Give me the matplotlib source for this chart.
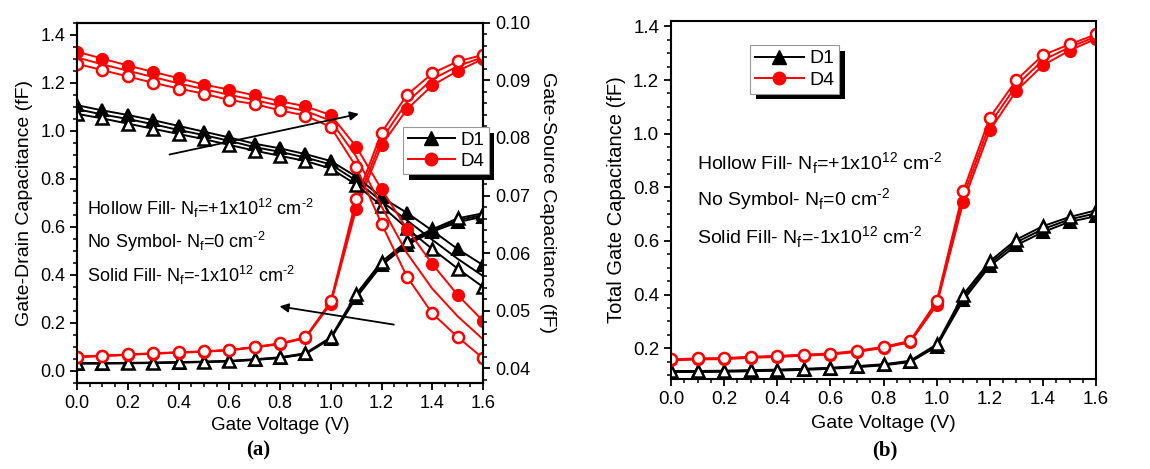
import matplotlib
matplotlib.use('Agg')
import matplotlib.pyplot as plt
import matplotlib.patheffects as pe
from matplotlib.lines import Line2D
from matplotlib.ticker import MultipleLocator, FormatStrFormatter

plt.rcParams['font.family'] = ['Liberation Sans', 'DejaVu Sans']
plt.rcParams['mathtext.fontset'] = 'custom'
plt.rcParams['mathtext.rm'] = 'Liberation Sans'
plt.rcParams['axes.linewidth'] = 1.5

# Gate voltage sweep (V)
vg = [0.0, 0.1, 0.2, 0.3, 0.4, 0.5, 0.6, 0.7, 0.8, 0.9, 1.0, 1.1, 1.2, 1.3, 1.4, 1.5, 1.6]

# (a) Gate-drain capacitance (fF), Nf = +1e12 / 0 / -1e12 cm^-2
cgd_d1_pos = [0.033, 0.033, 0.034, 0.035, 0.037, 0.039, 0.042, 0.049, 0.057, 0.074, 0.140, 0.320, 0.455, 0.540, 0.590, 0.636, 0.657]
cgd_d1_zero = [0.032, 0.032, 0.033, 0.034, 0.036, 0.038, 0.041, 0.047, 0.055, 0.072, 0.137, 0.312, 0.447, 0.532, 0.585, 0.628, 0.650]
cgd_d1_neg = [0.031, 0.031, 0.032, 0.033, 0.035, 0.037, 0.040, 0.046, 0.054, 0.070, 0.135, 0.305, 0.440, 0.525, 0.580, 0.620, 0.643]
cgd_d4_pos = [0.060, 0.064, 0.069, 0.074, 0.078, 0.082, 0.088, 0.100, 0.115, 0.140, 0.290, 0.715, 0.993, 1.150, 1.240, 1.290, 1.317]
cgd_d4_zero = [0.059, 0.063, 0.068, 0.073, 0.077, 0.081, 0.087, 0.099, 0.114, 0.139, 0.285, 0.695, 0.965, 1.120, 1.215, 1.270, 1.308]
cgd_d4_neg = [0.058, 0.062, 0.067, 0.072, 0.076, 0.080, 0.086, 0.098, 0.112, 0.137, 0.280, 0.675, 0.940, 1.090, 1.190, 1.250, 1.300]

# (a) Gate-source capacitance (fF)
cgs_d1_pos = [0.0842, 0.0834, 0.0825, 0.0816, 0.0807, 0.0798, 0.0788, 0.0778, 0.0769, 0.0760, 0.0747, 0.0719, 0.0682, 0.0643, 0.0607, 0.0573, 0.0541]
cgs_d1_zero = [0.0850, 0.0841, 0.0833, 0.0824, 0.0814, 0.0805, 0.0795, 0.0784, 0.0776, 0.0766, 0.0754, 0.0726, 0.0690, 0.0657, 0.0623, 0.0590, 0.0560]
cgs_d1_neg = [0.0857, 0.0848, 0.0840, 0.0831, 0.0821, 0.0811, 0.0801, 0.0790, 0.0782, 0.0772, 0.0760, 0.0733, 0.0697, 0.0670, 0.0639, 0.0607, 0.0579]
cgs_d4_pos = [0.0929, 0.0918, 0.0907, 0.0896, 0.0886, 0.0877, 0.0866, 0.0859, 0.0848, 0.0839, 0.0819, 0.0750, 0.0651, 0.0559, 0.0495, 0.0454, 0.0417]
cgs_d4_zero = [0.0940, 0.0928, 0.0917, 0.0906, 0.0895, 0.0885, 0.0875, 0.0866, 0.0856, 0.0847, 0.0830, 0.0768, 0.0681, 0.0600, 0.0538, 0.0490, 0.0450]
cgs_d4_neg = [0.0950, 0.0938, 0.0926, 0.0915, 0.0904, 0.0893, 0.0884, 0.0874, 0.0864, 0.0855, 0.0840, 0.0785, 0.0711, 0.0642, 0.0581, 0.0527, 0.0482]

# (b) Total gate capacitance (fF)
cgg_d1_pos = [0.115, 0.115, 0.116, 0.118, 0.120, 0.123, 0.127, 0.133, 0.140, 0.153, 0.214, 0.400, 0.524, 0.605, 0.655, 0.689, 0.714]
cgg_d1_zero = [0.113, 0.113, 0.114, 0.116, 0.118, 0.121, 0.125, 0.131, 0.138, 0.150, 0.210, 0.390, 0.515, 0.595, 0.644, 0.680, 0.703]
cgg_d1_neg = [0.111, 0.111, 0.112, 0.114, 0.116, 0.119, 0.123, 0.129, 0.136, 0.148, 0.206, 0.379, 0.506, 0.584, 0.633, 0.671, 0.692]
cgg_d4_pos = [0.158, 0.162, 0.163, 0.168, 0.171, 0.176, 0.180, 0.190, 0.205, 0.227, 0.375, 0.786, 1.060, 1.200, 1.293, 1.333, 1.370]
cgg_d4_zero = [0.156, 0.160, 0.161, 0.166, 0.169, 0.174, 0.178, 0.188, 0.203, 0.224, 0.368, 0.765, 1.036, 1.180, 1.274, 1.322, 1.362]
cgg_d4_neg = [0.154, 0.158, 0.159, 0.164, 0.167, 0.172, 0.176, 0.186, 0.201, 0.222, 0.360, 0.745, 1.012, 1.160, 1.255, 1.310, 1.354]

devices = ['D1', 'D4']
colors = {'D1': 'black', 'D4': 'red'}
markers = {'D1': '^', 'D4': 'o'}
msize = {'D1': 8.5, 'D4': 8}

hy = '\u2010'
notes = [r'Hollow Fill- N$_\mathregular{f}$=+1x10$^\mathregular{12}$ cm$^\mathregular{' + hy + '2}$',
         r'No Symbol- N$_\mathregular{f}$=0 cm$^\mathregular{' + hy + '2}$',
         r'Solid Fill- N$_\mathregular{f}$=-1x10$^\mathregular{12}$ cm$^\mathregular{' + hy + '2}$']


def plot_set(ax, dev, neg, zero, pos):
    c = colors[dev]
    m = markers[dev]
    ax.plot(vg, neg, color=c, lw=1.4, marker=m, ms=msize[dev], mfc=c, mec=c, mew=1.5)
    ax.plot(vg, zero, color=c, lw=1.4)
    ax.plot(vg, pos, color=c, lw=1.4, marker=m, ms=msize[dev], mfc='white', mec=c, mew=1.8)


def style_ticks(ax, size):
    ax.tick_params(direction='out', length=5, width=1.3, labelsize=size)
    ax.tick_params(which='minor', direction='out', length=3, width=1.1)


def add_legend(ax, anchor, size):
    handles = [Line2D([], [], color=colors[d], lw=1.4, marker=markers[d], ms=msize[d] + 1, mfc=colors[d], mec=colors[d])
               for d in devices]
    leg = ax.legend(handles, devices, loc='upper left', bbox_to_anchor=anchor, borderaxespad=0,
                    fontsize=size, handlelength=2.5, handletextpad=0.3, labelspacing=0.2,
                    borderpad=0.25, fancybox=False, framealpha=1)
    frame = leg.get_frame()
    frame.set_edgecolor('0.6')
    frame.set_linewidth(0.8)
    frame.set_path_effects([pe.SimplePatchShadow(offset=(4, -4), shadow_rgbFace='black', alpha=1),
                            pe.Normal()])


fig = plt.figure(figsize=(11.5, 4.69), dpi=100)

# ---- (a) Cgd and Cgs on twin y axes
ax = fig.add_axes([0.067, 0.1834, 0.353, 0.7676])
ax2 = ax.twinx()
for dev, (n, z, p) in zip(devices, [(cgd_d1_neg, cgd_d1_zero, cgd_d1_pos), (cgd_d4_neg, cgd_d4_zero, cgd_d4_pos)]):
    plot_set(ax, dev, n, z, p)
for dev, (n, z, p) in zip(devices, [(cgs_d1_neg, cgs_d1_zero, cgs_d1_pos), (cgs_d4_neg, cgs_d4_zero, cgs_d4_pos)]):
    plot_set(ax2, dev, n, z, p)

ax.set_xlim(0, 1.6)
ax.set_ylim(-0.05, 1.45)
ax2.set_ylim(0.0374, 0.1)
ax.xaxis.set_major_locator(MultipleLocator(0.2))
ax.xaxis.set_minor_locator(MultipleLocator(0.05))
ax.yaxis.set_major_locator(MultipleLocator(0.2))
ax.yaxis.set_minor_locator(MultipleLocator(0.05))
ax2.yaxis.set_major_locator(MultipleLocator(0.01))
ax2.yaxis.set_minor_locator(MultipleLocator(0.002))
style_ticks(ax, 13)
style_ticks(ax2, 13)
ax.xaxis.set_major_formatter(FormatStrFormatter('%.1f'))
ax.yaxis.set_major_formatter(FormatStrFormatter('%.1f'))
ax2.yaxis.set_major_formatter(FormatStrFormatter('%.2f'))
ax.set_xlabel('Gate Voltage (V)', fontsize=13.5, labelpad=4)
ax.set_ylabel('Gate-Drain Capacitance (fF)', fontsize=14, labelpad=5)
ax2.set_ylabel('Gate-Source Capacitance (fF)', fontsize=14, rotation=270, labelpad=19)

for i, t in enumerate(notes):
    ax2.text(0.025, 0.486 - i * 0.093, t, transform=ax2.transAxes, fontsize=13, va='center')

ax2.annotate('', xy=(0.701, 0.749), xytext=(0.221, 0.633), xycoords='axes fraction',
             arrowprops=dict(arrowstyle='-|>', color='black', lw=1.3, mutation_scale=13))
ax2.annotate('', xy=(0.492, 0.214), xytext=(0.787, 0.161), xycoords='axes fraction',
             arrowprops=dict(arrowstyle='-|>', color='black', lw=1.3, mutation_scale=13))
add_legend(ax2, (0.803, 0.711), 13.5)

# ---- (b) Cgg
bx = fig.add_axes([0.5835, 0.1919, 0.3696, 0.7633])
for dev, (n, z, p) in zip(devices, [(cgg_d1_neg, cgg_d1_zero, cgg_d1_pos), (cgg_d4_neg, cgg_d4_zero, cgg_d4_pos)]):
    plot_set(bx, dev, n, z, p)
bx.set_xlim(0, 1.6)
bx.set_ylim(0.085, 1.42)
bx.xaxis.set_major_locator(MultipleLocator(0.2))
bx.xaxis.set_minor_locator(MultipleLocator(0.05))
bx.set_yticks([0.2, 0.4, 0.6, 0.8, 1.0, 1.2, 1.4])
bx.yaxis.set_minor_locator(MultipleLocator(0.05))
style_ticks(bx, 13.5)
bx.xaxis.set_major_formatter(FormatStrFormatter('%.1f'))
bx.yaxis.set_major_formatter(FormatStrFormatter('%.1f'))
bx.set_xlabel('Gate Voltage (V)', fontsize=14, labelpad=5)
bx.set_ylabel('Total Gate Capacitance (fF)', fontsize=14.5, labelpad=5)
for i, t in enumerate(notes):
    bx.text(0.061, 0.603 - i * 0.103, t, transform=bx.transAxes, fontsize=14, va='center')
add_legend(bx, (0.186, 0.933), 14)

fig.text(0.2243, 0.04, '(a)', fontsize=15, fontweight='bold', family='Liberation Serif', ha='center', va='center')
fig.text(0.7696, 0.04, '(b)', fontsize=15, fontweight='bold', family='Liberation Serif', ha='center', va='center')

fig.savefig('out.png', dpi=100)
